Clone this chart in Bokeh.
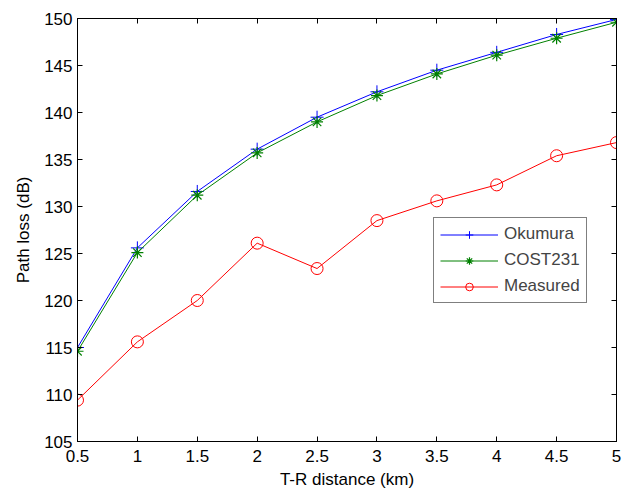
from bokeh.plotting import figure
from bokeh.models import Range1d, LinearAxis, FixedTicker, Legend, LegendItem
from bokeh.embed import file_html
from bokeh.resources import INLINE

distance_km = [0.5, 1.0, 1.5, 2.0, 2.5, 3.0, 3.5, 4.0, 4.5, 5.0]
okumura = [115.0, 125.6, 131.6, 136.1, 139.5, 142.2, 144.5, 146.4, 148.3, 149.9]
cost231 = [114.6, 125.1, 131.2, 135.7, 139.0, 141.8, 144.1, 146.1, 147.9, 149.6]
measured = [109.4, 115.6, 120.0, 126.1, 123.4, 128.5, 130.6, 132.3, 135.4, 136.8]

x_ticks = [0.5, 1.0, 1.5, 2.0, 2.5, 3.0, 3.5, 4.0, 4.5, 5.0]
x_tick_labels = ["0.5", "1", "1.5", "2", "2.5", "3", "3.5", "4", "4.5", "5"]
y_ticks = [105, 110, 115, 120, 125, 130, 135, 140, 145, 150]

FONT = "Liberation Sans"
FS = "17px"

p = figure(width=622, height=491, x_range=Range1d(0.5, 5), y_range=Range1d(105, 150),
           output_backend="svg", toolbar_location=None,
           min_border_left=77, min_border_right=6, min_border_top=18, min_border_bottom=47)
p.xgrid.visible = False
p.ygrid.visible = False
p.outline_line_color = "black"
p.outline_line_width = 1
p.background_fill_color = "white"
p.border_fill_color = "white"


def style_axis(ax):
    ax.major_tick_in = 5
    ax.major_tick_out = 0
    ax.minor_tick_in = 0
    ax.minor_tick_out = 0
    ax.axis_line_color = "black"
    ax.major_tick_line_color = "black"
    ax.major_label_text_font = FONT
    ax.major_label_text_font_size = FS
    ax.major_label_text_color = "black"
    ax.axis_label_text_font = FONT
    ax.axis_label_text_font_size = FS
    ax.axis_label_text_font_style = "normal"
    ax.axis_label_text_color = "black"


xax = p.xaxis[0]
yax = p.yaxis[0]
xax.ticker = FixedTicker(ticks=x_ticks)
xax.major_label_overrides = {t: l for t, l in zip(x_ticks, x_tick_labels)}
yax.ticker = FixedTicker(ticks=y_ticks)
style_axis(xax)
style_axis(yax)
xax.axis_label = "T-R distance (km)"
yax.axis_label = "Path loss (dB)"
xax.major_label_standoff = 8
yax.major_label_standoff = 5
xax.axis_label_standoff = 5
yax.axis_label_standoff = 8

top_ax = LinearAxis(ticker=FixedTicker(ticks=x_ticks))
style_axis(top_ax)
top_ax.major_label_overrides = {t: "" for t in x_ticks}
right_ax = LinearAxis(ticker=FixedTicker(ticks=y_ticks))
style_axis(right_ax)
right_ax.major_label_overrides = {t: "" for t in y_ticks}
top_ax.major_label_standoff = 0
right_ax.major_label_standoff = 0
p.add_layout(top_ax, "above")
p.add_layout(right_ax, "right")

l1 = p.line(distance_km, okumura, line_color="#0000ff", line_width=1)
m1 = p.scatter(distance_km, okumura, marker="cross", size=13, line_color="#0000ff", line_width=1)
l2 = p.line(distance_km, cost231, line_color="#008000", line_width=1)
m2 = p.scatter(distance_km, cost231, marker="asterisk", size=12, line_color="#008000", line_width=1.2)
l3 = p.line(distance_km, measured, line_color="#ff0000", line_width=1)
m3 = p.scatter(distance_km, measured, marker="circle", size=12, line_color="#ff0000",
               fill_color=None, line_width=1)

legend = Legend(items=[LegendItem(label="Okumura", renderers=[l1, m1]),
                       LegendItem(label="COST231", renderers=[l2, m2]),
                       LegendItem(label="Measured", renderers=[l3, m3])],
                location=(356, 138))
legend.border_line_color = "black"
legend.border_line_width = 1
legend.background_fill_color = "white"
legend.background_fill_alpha = 1
legend.label_text_font = FONT
legend.label_text_font_size = FS
legend.glyph_width = 58
legend.glyph_height = 19
legend.label_standoff = 6
legend.spacing = 6
legend.padding = 6
legend.margin = 0
p.add_layout(legend, "center")

open("out.html", "w").write(file_html(p, INLINE))
